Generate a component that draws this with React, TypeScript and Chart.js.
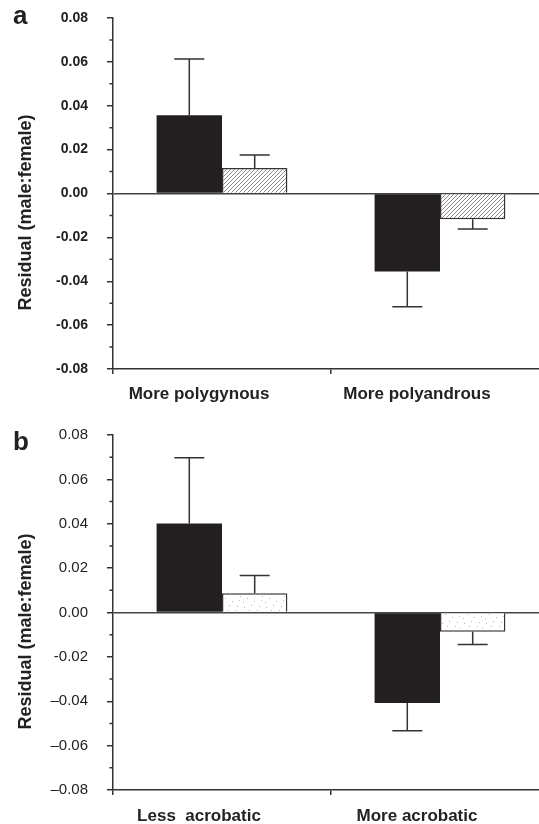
import React, { useEffect, useRef } from "react";
import { Chart, registerables } from "chart.js";

Chart.register(...registerables);
Chart.defaults.font.family = '"Liberation Sans", Arial, sans-serif';

// ---- Panel a data ----
const categoriesA = ["More polygynous", "More polyandrous"];
const solidA = [0.0357, -0.0356];
const solidErrA = [0.0256, 0.016];
const hatchA = [0.0116, -0.0117];
const hatchErrA = [0.006, 0.0045];
const tickLabelsA = ["-0.08", "-0.06", "-0.04", "-0.02", "0.00", "0.02", "0.04", "0.06", "0.08"];

// ---- Panel b data ----
const categoriesB = ["Less  acrobatic", "More acrobatic"];
const solidB = [0.0401, -0.0408];
const solidErrB = [0.0297, 0.0125];
const speckB = [0.0087, -0.0087];
const speckErrB = [0.008, 0.0057];
const tickLabelsB = ["\u20130.08", "\u20130.06", "\u20130.04", "-0.02", "0.00", "0.02", "0.04", "0.06", "0.08"];

const minorTicks = [-0.07, -0.05, -0.03, -0.01, 0.01, 0.03, 0.05, 0.07];
const yTitle = "Residual (male:female)";

function hatchPattern(ctx: CanvasRenderingContext2D) {
  const c = document.createElement("canvas");
  c.width = 4;
  c.height = 4;
  const g = c.getContext("2d")!;
  g.fillStyle = "#ffffff";
  g.fillRect(0, 0, 4, 4);
  g.strokeStyle = "#8a8a8a";
  g.lineWidth = 1;
  g.beginPath();
  g.moveTo(-1, 5);
  g.lineTo(5, -1);
  g.moveTo(-1, 1);
  g.lineTo(1, -1);
  g.moveTo(3, 5);
  g.lineTo(5, 3);
  g.stroke();
  return ctx.createPattern(c, "repeat")!;
}

function speckPattern(ctx: CanvasRenderingContext2D) {
  const c = document.createElement("canvas");
  c.width = 22;
  c.height = 16;
  const g = c.getContext("2d")!;
  g.fillStyle = "#ffffff";
  g.fillRect(0, 0, 22, 16);
  g.fillStyle = "#b8b8b8";
  const dots = [
    [2, 3], [9, 1], [15, 6], [19, 12], [5, 10], [12, 13], [17, 2], [7, 6], [20, 8], [1, 14],
  ];
  dots.forEach(([x, y]) => g.fillRect(x, y, 1, 1));
  return ctx.createPattern(c, "repeat")!;
}

type PanelProps = {
  letter: string;
  letterBaseline: number;
  categories: string[];
  solid: number[];
  solidErr: number[];
  light: number[];
  lightErr: number[];
  tickLabels: string[];
  pattern: "hatch" | "speck";
  top: number;
  xHeight: number;
  boldTicks: boolean;
  tickSize: number;
  labelPadding: number;
};

function Panel(p: PanelProps) {
  const ref = useRef<HTMLCanvasElement | null>(null);
  useEffect(() => {
    const canvas = ref.current!;
    const ctx = canvas.getContext("2d")!;
    const fill = p.pattern === "hatch" ? hatchPattern(ctx) : speckPattern(ctx);
    const errs = [p.solidErr, p.lightErr];
    const decor = {
      id: "decor",
      afterDatasetsDraw(chart: any) {
        const c = chart.ctx;
        const ys = chart.scales.y;
        chart.data.datasets.forEach((ds: any, i: number) => {
          const meta = chart.getDatasetMeta(i);
          meta.data.forEach((el: any, j: number) => {
            const v = ds.data[j];
            const e = errs[i][j];
            const y0 = ys.getPixelForValue(v);
            const y1 = ys.getPixelForValue(v + Math.sign(v) * e);
            c.save();
            c.strokeStyle = "#333";
            c.lineWidth = 1.5;
            c.beginPath();
            c.moveTo(el.x, y0);
            c.lineTo(el.x, y1);
            c.moveTo(el.x - 15, y1);
            c.lineTo(el.x + 15, y1);
            c.stroke();
            c.restore();
          });
        });
      },
      afterDraw(chart: any) {
        const c = chart.ctx;
        const ys = chart.scales.y;
        const area = chart.chartArea;
        c.save();
        c.strokeStyle = "#333";
        c.lineWidth = 1.5;
        c.beginPath();
        minorTicks.forEach((v) => {
          const y = ys.getPixelForValue(v);
          c.moveTo(area.left - 3.5, y);
          c.lineTo(area.left, y);
        });
        c.stroke();
        // y-axis title
        c.fillStyle = "#222";
        c.font = 'bold 18px "Liberation Sans", Arial, sans-serif';
        c.textAlign = "center";
        c.textBaseline = "middle";
        c.translate(26, (area.top + area.bottom) / 2 + 19);
        c.rotate(-Math.PI / 2);
        c.fillText(yTitle, 0, 0);
        c.restore();
        // panel letter
        c.save();
        c.fillStyle = "#222";
        c.font = 'bold 26px "Liberation Sans", Arial, sans-serif';
        c.textAlign = "left";
        c.textBaseline = "alphabetic";
        c.fillText(p.letter, 13, p.letterBaseline);
        c.restore();
      },
    };
    const chart = new Chart(canvas, {
      type: "bar",
      data: {
        labels: p.categories,
        datasets: [
          {
            data: p.solid,
            backgroundColor: "#231f20",
            borderColor: "#231f20",
            borderWidth: 0,
            categoryPercentage: 0.6,
            barPercentage: 1.0,
          },
          {
            data: p.light,
            backgroundColor: fill as any,
            borderColor: "#333",
            borderWidth: 1.5,
            categoryPercentage: 0.6,
            barPercentage: 1.0,
          },
        ],
      },
      options: {
        animation: false,
        responsive: false,
        devicePixelRatio: 1,
        layout: { padding: { top: p.top, right: 0, bottom: 0, left: 0 } },
        plugins: { legend: { display: false }, tooltip: { enabled: false }, title: { display: false } },
        scales: {
          x: {
            offset: true,
            afterFit: (s: any) => {
              s.height = p.xHeight;
              s.paddingLeft = 0;
              s.paddingRight = 0;
            },
            border: { color: "#333", width: 1.5 },
            grid: {
              offset: true,
              drawOnChartArea: false,
              tickLength: 5,
              lineWidth: 1.5,
              color: (c: any) => (c.index === 2 ? "rgba(0,0,0,0)" : "#333"),
            },
            ticks: {
              padding: p.labelPadding,
              labelOffset: -23,
              maxRotation: 0,
              autoSkip: false,
              color: "#222",
              font: { size: 17, weight: "bold" },
            },
          },
          y: {
            min: -0.08,
            max: 0.08,
            afterFit: (s: any) => {
              s.width = 113;
              s.paddingTop = 0;
              s.paddingBottom = 0;
            },
            border: { color: "#333", width: 1.5 },
            grid: {
              drawOnChartArea: true,
              lineWidth: 1.5,
              color: (c: any) => (c.tick && Math.abs(c.tick.value) < 1e-9 ? "#444" : "rgba(0,0,0,0)"),
              tickColor: "#333",
              tickLength: 6,
              tickWidth: 1.5,
            },
            ticks: {
              stepSize: 0.02,
              padding: 19,
              color: "#222",
              font: { size: p.tickSize, weight: p.boldTicks ? "bold" : "normal" },
              callback: (_v: any, i: number) => p.tickLabels[i],
            },
          },
        },
      } as any,
      plugins: [decor],
    });
    return () => chart.destroy();
  }, []);
  return <canvas ref={ref} width={549} height={412} style={{ display: "block", width: 549, height: 412 }} />;
}

export default function App() {
  return (
    <div
      style={{
        position: "fixed",
        left: 0,
        top: 0,
        width: 539,
        height: 824,
        overflow: "hidden",
        background: "#ffffff",
      }}
    >
      <Panel
        letter="a"
        letterBaseline={24}
        categories={categoriesA}
        solid={solidA}
        solidErr={solidErrA}
        light={hatchA}
        lightErr={hatchErrA}
        tickLabels={tickLabelsA}
        pattern="hatch"
        top={18}
        xHeight={43}
        boldTicks={true}
        tickSize={14}
        labelPadding={10}
      />
      <Panel
        letter="b"
        letterBaseline={38}
        categories={categoriesB}
        solid={solidB}
        solidErr={solidErrB}
        light={speckB}
        lightErr={speckErrB}
        tickLabels={tickLabelsB}
        pattern="speck"
        top={23}
        xHeight={34}
        boldTicks={false}
        tickSize={15}
        labelPadding={11}
      />
    </div>
  );
}
